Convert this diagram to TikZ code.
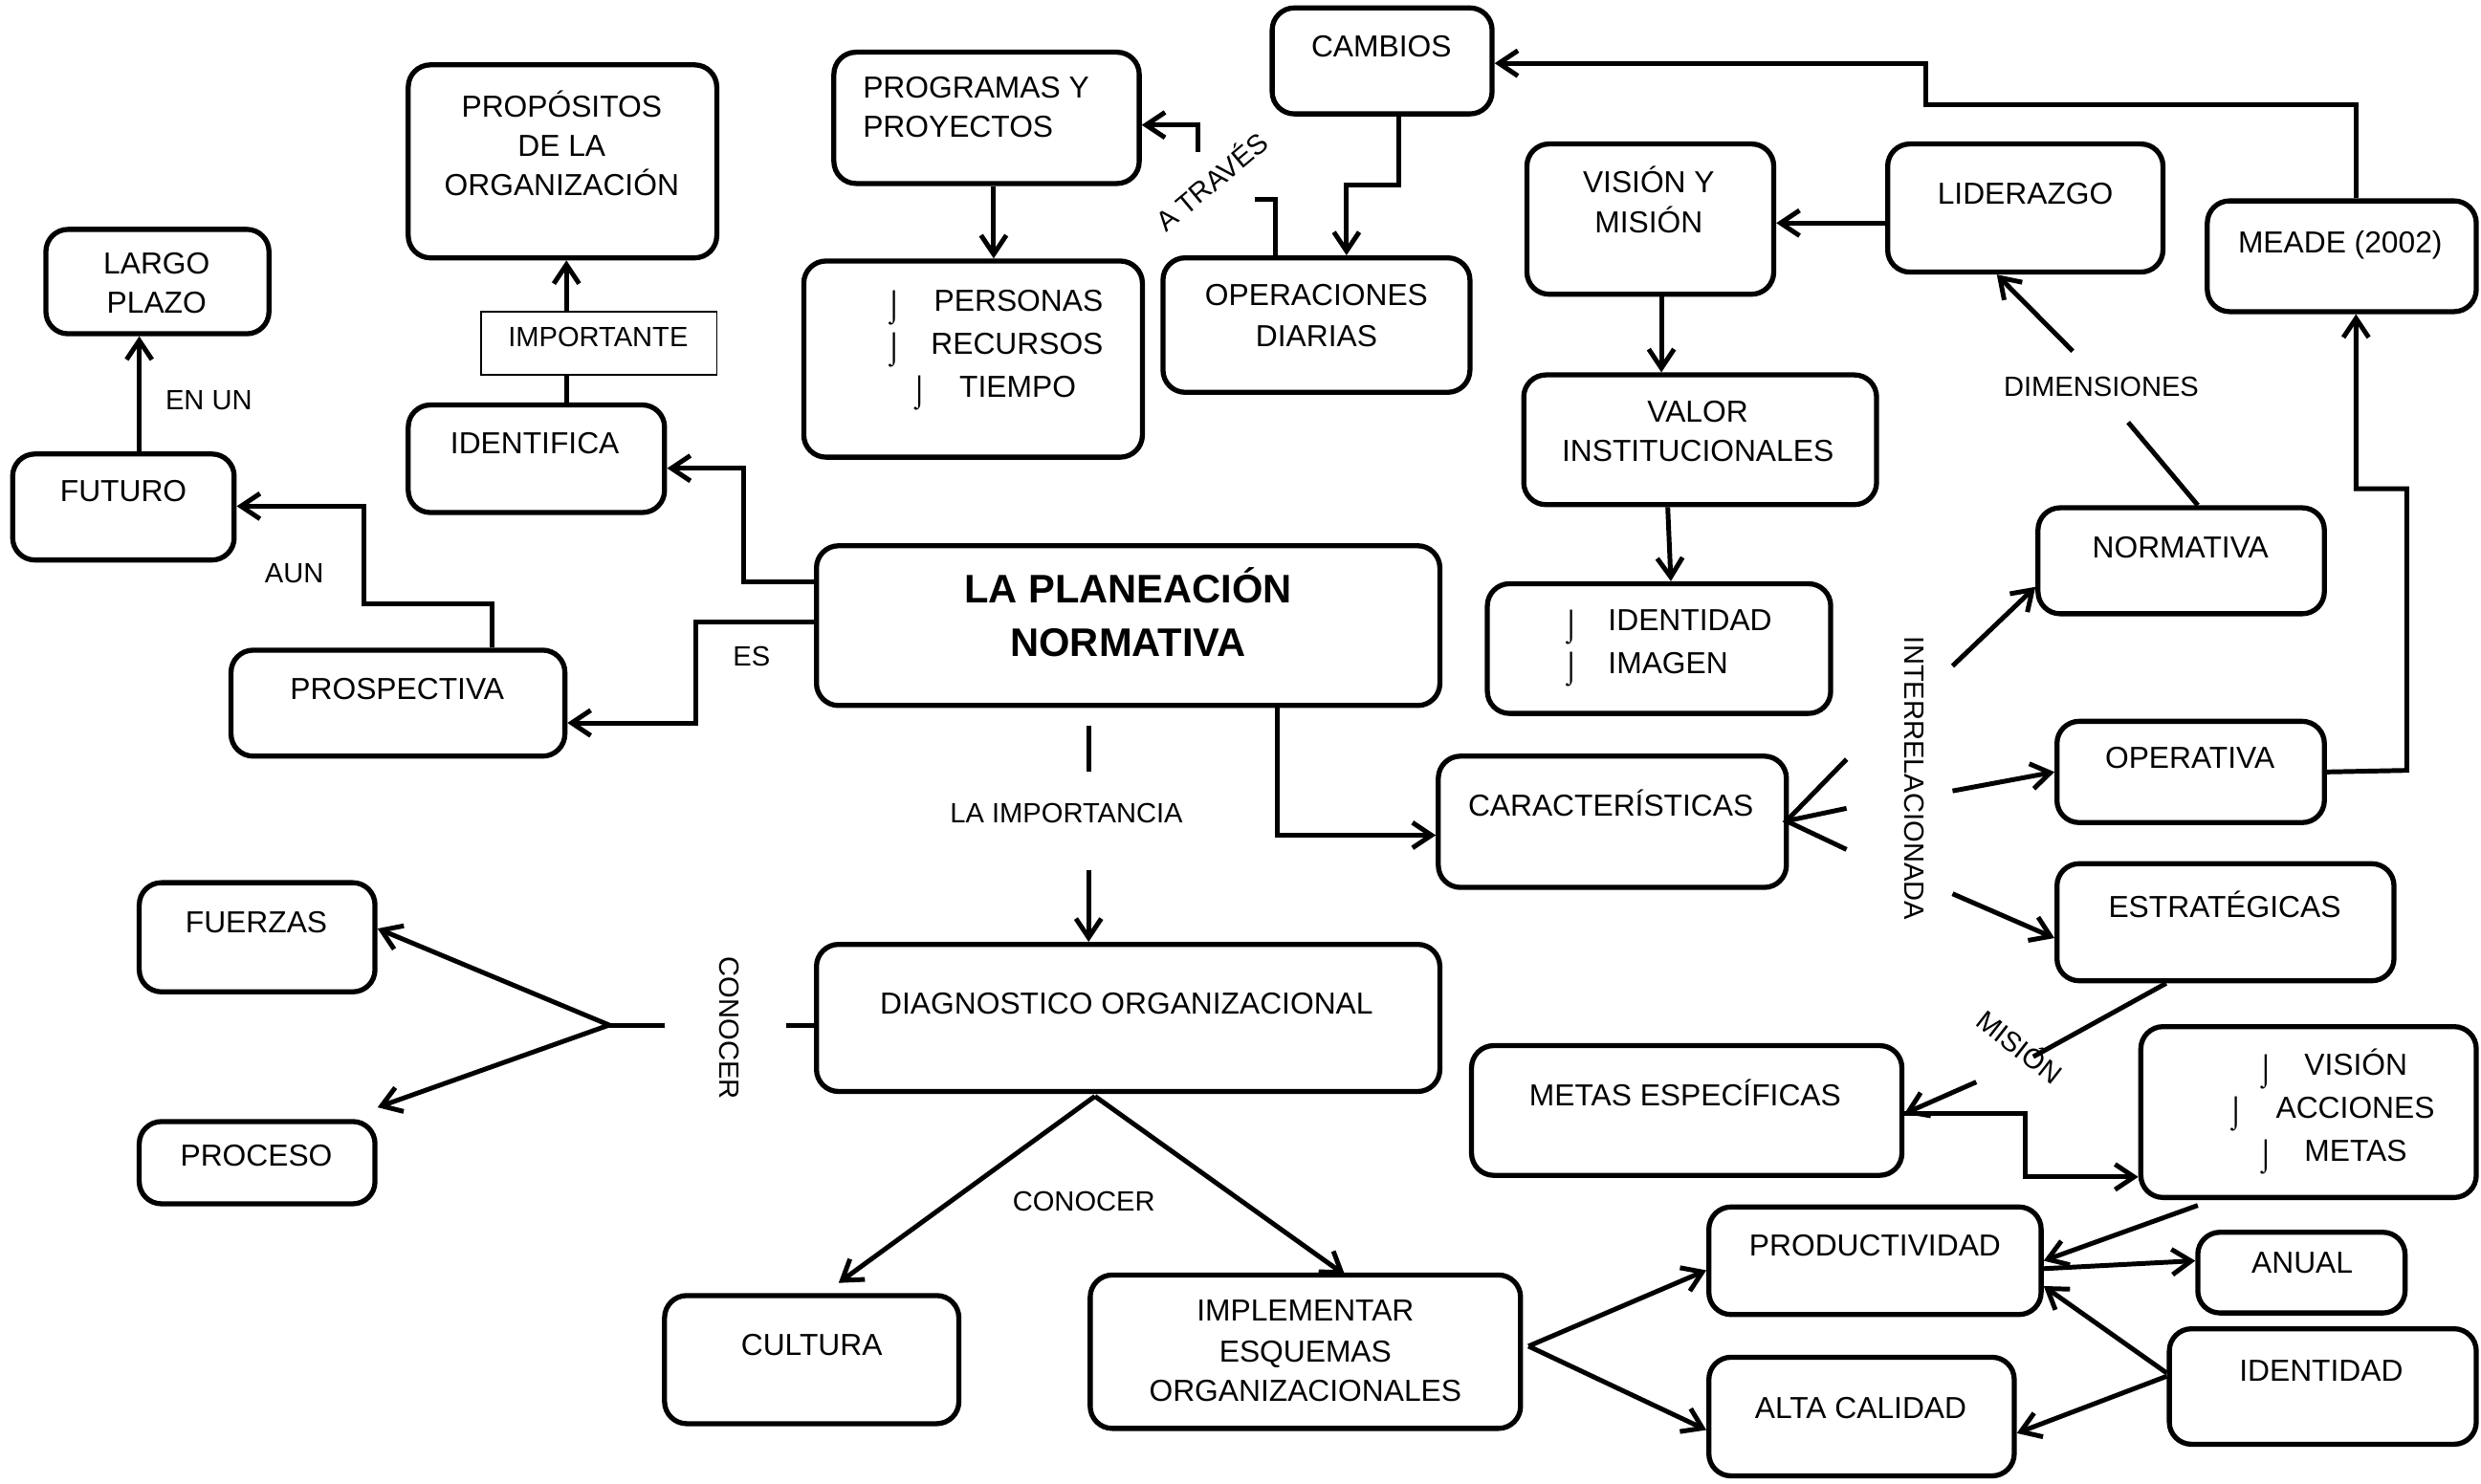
\documentclass[tikz,border=0pt]{standalone}
\usepackage{fontspec}
\setmainfont{Liberation Sans}
\usetikzlibrary{arrows.meta,fit}
\newcommand\Bx[5]{\node[box,fit={(#2,#3)(#4,#5)}] (#1) {};}
\newcommand\Tc[4]{\node[tx] (#1) at (#2,#3+6.9) {#4};}
\newcommand\Tl[4]{\node[tx,anchor=base west] (#1) at (#2,#3+6.9) {#4};}
\newcommand\Lc[4]{\node[lb] (#1) at (#2,#3+6.3) {#4};}
\newcommand\Bu[3]{\node[tx] (#1) at (#2,#3+6.9) {\raisebox{-1.3pt}{⌡}};}
\begin{document}
\begin{tikzpicture}[x=0.5pt,y=-0.5pt,
 box/.style={draw,line width=1.6pt,rounded corners=7pt,inner sep=0pt},
 thinbox/.style={draw,line width=0.5pt,inner sep=0pt},
 ln/.style={line width=1.5pt},
 arr/.style={line width=1.5pt,-{Straight Barb[length=6pt,width=8pt]}},
 tx/.style={font=\fontsize{9.6}{12}\selectfont,inner sep=0pt,anchor=base},
 lb/.style={font=\fontsize{8.8}{11}\selectfont,inner sep=0pt,anchor=base},
 rl/.style={font=\fontsize{8.8}{11}\selectfont,inner sep=0pt,anchor=center},
 ttl/.style={font=\fontsize{12.6}{15}\selectfont\bfseries,inner sep=0pt,anchor=base},
]
\useasboundingbox (0,0) rectangle (1568,937.6);

% ---------- boxes ----------
\Bx{cambios}{804}{5}{943}{72}
\Bx{prog}{527}{33}{720}{116}
\Bx{pers}{508}{165}{722}{289}
\Bx{oper}{735}{163}{929}{248}
\Bx{prop}{258}{41}{453}{163}
\Bx{largo}{29}{145}{170}{211}
\node[thinbox,fit={(304,197)(453,237)}] (imp) {};
\Bx{ident}{258}{256}{420}{324}
\Bx{futuro}{8}{287}{148}{354}
\Bx{prosp}{146}{411}{357}{478}
\Bx{plan}{516}{345}{910}{446}
\Bx{vym}{965}{91}{1121}{186}
\Bx{lider}{1193}{91}{1367}{172}
\Bx{meade}{1395}{127}{1565}{197}
\Bx{valor}{963}{237}{1186}{319}
\Bx{idim}{940}{369}{1157}{451}
\Bx{norm}{1288}{321}{1469}{388}
\Bx{carac}{909}{478}{1129}{561}
\Bx{operat}{1300}{456}{1469}{520}
\Bx{estr}{1300}{546}{1513}{620}
\Bx{diag}{516}{597}{910}{690}
\Bx{fuerzas}{88}{558}{237}{627}
\Bx{proceso}{88}{709}{237}{761}
\Bx{metas}{930}{661}{1202}{743}
\Bx{vam}{1353}{649}{1565}{757}
\Bx{cultura}{420}{819}{606}{900}
\Bx{impl}{689}{806}{961}{903}
\Bx{prod}{1080}{763}{1290}{831}
\Bx{anual}{1389}{779}{1520}{830}
\Bx{alta}{1080}{858}{1273}{933}
\Bx{ident2}{1371}{840}{1565}{913}

% ---------- box texts ----------
\Tc{t1}{873}{29}{CAMBIOS}
\Tl{t2}{545}{55}{PROGRAMAS Y}
\Tl{t3}{545}{80}{PROYECTOS}
\Bu{b1}{565}{190}\Tl{t4}{590}{190}{PERSONAS}
\Bu{b2}{565}{217}\Tl{t5}{588}{217}{RECURSOS}
\Bu{b3}{581}{244}\Tl{t6}{606}{244}{TIEMPO}
\Tc{t7}{832}{186}{OPERACIONES}
\Tc{t8}{832}{212}{DIARIAS}
\Tc{t9}{355}{67}{PROPÓSITOS}
\Tc{t10}{355}{92}{DE LA}
\Tc{t11}{355}{117}{ORGANIZACIÓN}
\Tc{t12}{99}{166}{LARGO}
\Tc{t13}{99}{191}{PLAZO}
\Lc{t14}{378}{213}{IMPORTANTE}
\Tc{t15}{338}{280}{IDENTIFICA}
\Tc{t16}{78}{310}{FUTURO}
\Tc{t17}{251}{435}{PROSPECTIVA}
\node[ttl] (t18) at (713,372+9) {LA PLANEACIÓN};
\node[ttl] (t19) at (713,406+9) {NORMATIVA};
\Tc{t20}{1042}{115}{VISIÓN Y}
\Tc{t21}{1042}{140}{MISIÓN}
\Tc{t22}{1280}{122}{LIDERAZGO}
\Tc{t23}{1479}{153}{MEADE (2002)}
\Tc{t24}{1073}{260}{VALOR}
\Tc{t25}{1073}{285}{INSTITUCIONALES}
\Bu{b4}{993}{392}\Tl{t26}{1016}{392}{IDENTIDAD}
\Bu{b5}{993}{419}\Tl{t27}{1016}{419}{IMAGEN}
\Tc{t28}{1378}{346}{NORMATIVA}
\Tc{t29}{1018}{509}{CARACTERÍSTICAS}
\Tc{t30}{1384}{479}{OPERATIVA}
\Tc{t31}{1406}{573}{ESTRATÉGICAS}
\Tc{t32}{712}{634}{DIAGNOSTICO ORGANIZACIONAL}
\Tc{t33}{162}{583}{FUERZAS}
\Tc{t34}{162}{730}{PROCESO}
\Tc{t35}{1065}{692}{METAS ESPECÍFICAS}
\Bu{b6}{1432}{673}\Tl{t36}{1456}{673}{VISIÓN}
\Bu{b7}{1413}{700}\Tl{t37}{1438}{700}{ACCIONES}
\Bu{b8}{1432}{727}\Tl{t38}{1456}{727}{METAS}
\Tc{t39}{513}{850}{CULTURA}
\Tc{t40}{825}{828}{IMPLEMENTAR}
\Tc{t41}{825}{854}{ESQUEMAS}
\Tc{t42}{825}{879}{ORGANIZACIONALES}
\Tc{t43}{1185}{787}{PRODUCTIVIDAD}
\Tc{t44}{1455}{798}{ANUAL}
\Tc{t45}{1176}{890}{ALTA CALIDAD}
\Tc{t46}{1467}{866}{IDENTIDAD}

% ---------- connector labels ----------
\Lc{l1}{132}{253}{EN UN}
\Lc{l2}{186}{362}{AUN}
\Lc{l3}{475}{415}{ES}
\Lc{l4}{674}{514}{LA IMPORTANCIA}
\Lc{l5}{685}{759}{CONOCER}
\Lc{l6}{1328}{244}{DIMENSIONES}
\node[rl,rotate=40] (l7) at (765,114) {A TRAVÉS};
\node[rl,rotate=-38] (l8) at (1277,661) {MISIÓN};
\node[rl,rotate=-90] (l9) at (1210,492) {INTERRELACIONADA};
\node[rl,rotate=-90] (l10) at (461,650) {CONOCER};

% ---------- free ends ----------
\coordinate (c1) at (757,96);
\coordinate (c2) at (1310,222);
\coordinate (c3) at (1345,267);
\coordinate (cv) at (1129,519);
\coordinate (i1) at (1234,421);
\coordinate (i2) at (1234,500);
\coordinate (i3) at (1234,565);
\coordinate (m1) at (1285,668);
\coordinate (m2) at (1249,684);
\coordinate (v1) at (1389,762);
\coordinate (iv) at (966,851);
\coordinate (dv) at (692,693);
\coordinate (p1) at (688,488);
\coordinate (p2) at (688,550);
\coordinate (k1) at (497,648);
\coordinate (k2) at (420,648);
\coordinate (k3) at (385,648);

% ---------- connectors ----------
\draw[arr] (meade.north -| 1489,0) -- (1489,66) -- (1217,66) -- (1217,40) -- (cambios.east |- 0,40);
\draw[arr] (cambios.south -| 884,0) -- (884,117) -- (851,117) -- (oper.north -| 851,0);
\draw[ln] (oper.north -| 806,0) -- (806,126) -- (793,126);
\draw[arr] (c1) -- (757,79) -- (prog.east |- 0,79);
\draw[arr] (prog.south -| 628,0) -- (pers.north -| 628,0);
\draw[arr] (plan.west |- 0,368) -- (470,368) -- (470,296) -- (ident.east |- 0,296);
\draw[arr] (plan.west |- 0,393) -- (440,393) -- (440,457) -- (prosp.east |- 0,457);
\draw[arr] (prosp.north -| 311,0) -- (311,382) -- (230,382) -- (230,320) -- (futuro.east |- 0,320);
\draw[arr] (futuro.north -| 88,0) -- (largo.south -| 88,0);
\draw[ln] (ident.north -| 358,0) -- (imp.south -| 358,0);
\draw[arr] (imp.north -| 358,0) -- (prop.south -| 358,0);
\draw[arr] (vym.south -| 1050,0) -- (valor.north -| 1050,0);
\draw[arr] (lider.west |- 0,141) -- (vym.east |- 0,141);
\draw[arr] (valor.south -| 1054,0) -- (idim.north -| 1056,0);
\draw[ln] (norm.north -| 1389,0) -- (c3);
\draw[arr] (c2) -- (lider.south -| 1262,0);
\draw[arr] (operat.east |- 0,488) -- (1521,487) -- (1521,309) -- (1489,309) -- (meade.south -| 1489,0);
\draw[ln] (1167,480) -- (cv) -- (1167,537);
\draw[ln] (cv) -- (1167,511);
\draw[arr] (plan.south -| 807,0) -- (807,528) -- (carac.west |- 0,528);
\draw[arr] (i1) -- (norm.west |- 0,371);
\draw[arr] (i2) -- (operat.west |- 0,488);
\draw[arr] (i3) -- (estr.west |- 0,593);
\draw[ln] (estr.south -| 1369,0) -- (m1);
\draw[arr] (m2) -- (metas.east |- 0,704);
\draw[arr] (metas.east |- 0,704) -- (1280,704) -- (1280,744) -- (vam.west |- 0,744);
\draw[arr] (v1) -- (prod.east |- 0,797);
\draw[arr] (prod.east |- 0,802) -- (anual.west |- 0,797);
\draw[arr] (ident2.west |- 0,868) -- (prod.east |- 0,813);
\draw[arr] (ident2.west |- 0,870) -- (alta.east |- 0,906);
\draw[arr] (iv) -- (prod.west |- 0,803);
\draw[arr] (iv) -- (alta.west |- 0,904);
\draw[arr] (dv) -- (530,811);
\draw[arr] (dv) -- (850,806);
\draw[ln] (plan.south -| 688,0) ++(0,11) -- (p1);
\draw[arr] (p2) -- (diag.north -| 688,0);
\draw[ln] (diag.west |- 0,648) -- (k1);
\draw[ln] (k2) -- (k3);
\draw[arr] (k3) -- (fuerzas.east |- 0,587);
\draw[arr] (k3) -- (proceso.east |- 0,700);
\end{tikzpicture}
\end{document}
